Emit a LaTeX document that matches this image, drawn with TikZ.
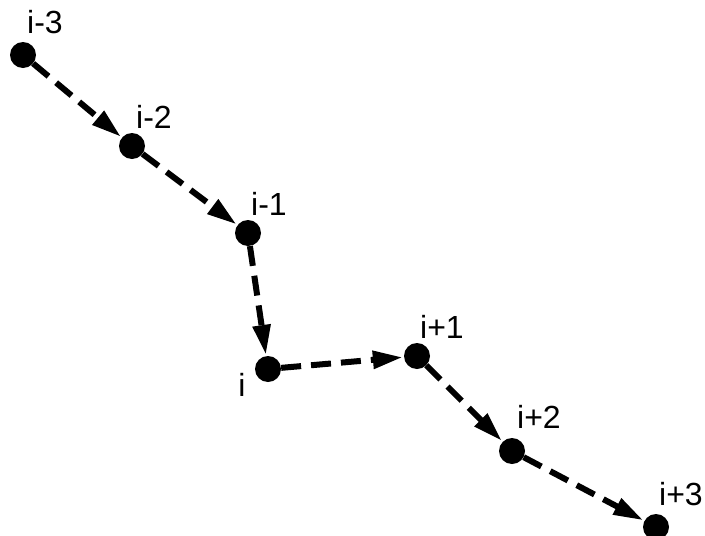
\documentclass[tikz,border=0pt]{standalone}
\usepackage{fontspec}
\setmainfont{Liberation Sans}
\usetikzlibrary{arrows.meta}
\begin{document}
\begin{tikzpicture}[x=1pt, y=-1pt,
    site/.style={circle, fill=black, inner sep=0pt, minimum size=26pt},
    tag/.style={font=\fontsize{32}{38}\selectfont, inner sep=0pt},
    hop/.style={-{Triangle[length=30pt, width=17pt]}, line width=6pt,
      dash pattern=on 20pt off 10pt, shorten >=1pt}]
  \useasboundingbox (0,0) rectangle (705,536);
  % chain of sites
  \node[site] (m3) at (23, 55) {};
  \node[site] (m2) at (132, 146) {};
  \node[site] (m1) at (248, 233) {};
  \node[site] (c0) at (268, 369) {};
  \node[site] (p1) at (417, 356) {};
  \node[site] (p2) at (512, 451) {};
  \node[site] (p3) at (656, 527) {};
  % labels
  \node[tag] (lm3) at (45, 22) {i-3};
  \node[tag] (lm2) at (154, 117) {i-2};
  \node[tag] (lm1) at (269, 204) {i-1};
  \node[tag] (lc0) at (242, 385) {i};
  \node[tag] (lp1) at (442, 327) {i+1};
  \node[tag] (lp2) at (539, 417) {i+2};
  \node[tag] (lp3) at (681, 494) {i+3};
  % hops
  \draw[hop] (m3) -- (m2);
  \draw[hop] (m2) -- (m1);
  \draw[hop] (m1) -- (c0);
  \draw[hop] (c0) -- (p1);
  \draw[hop] (p1) -- (p2);
  \draw[hop] (p2) -- (p3);
\end{tikzpicture}
\end{document}
